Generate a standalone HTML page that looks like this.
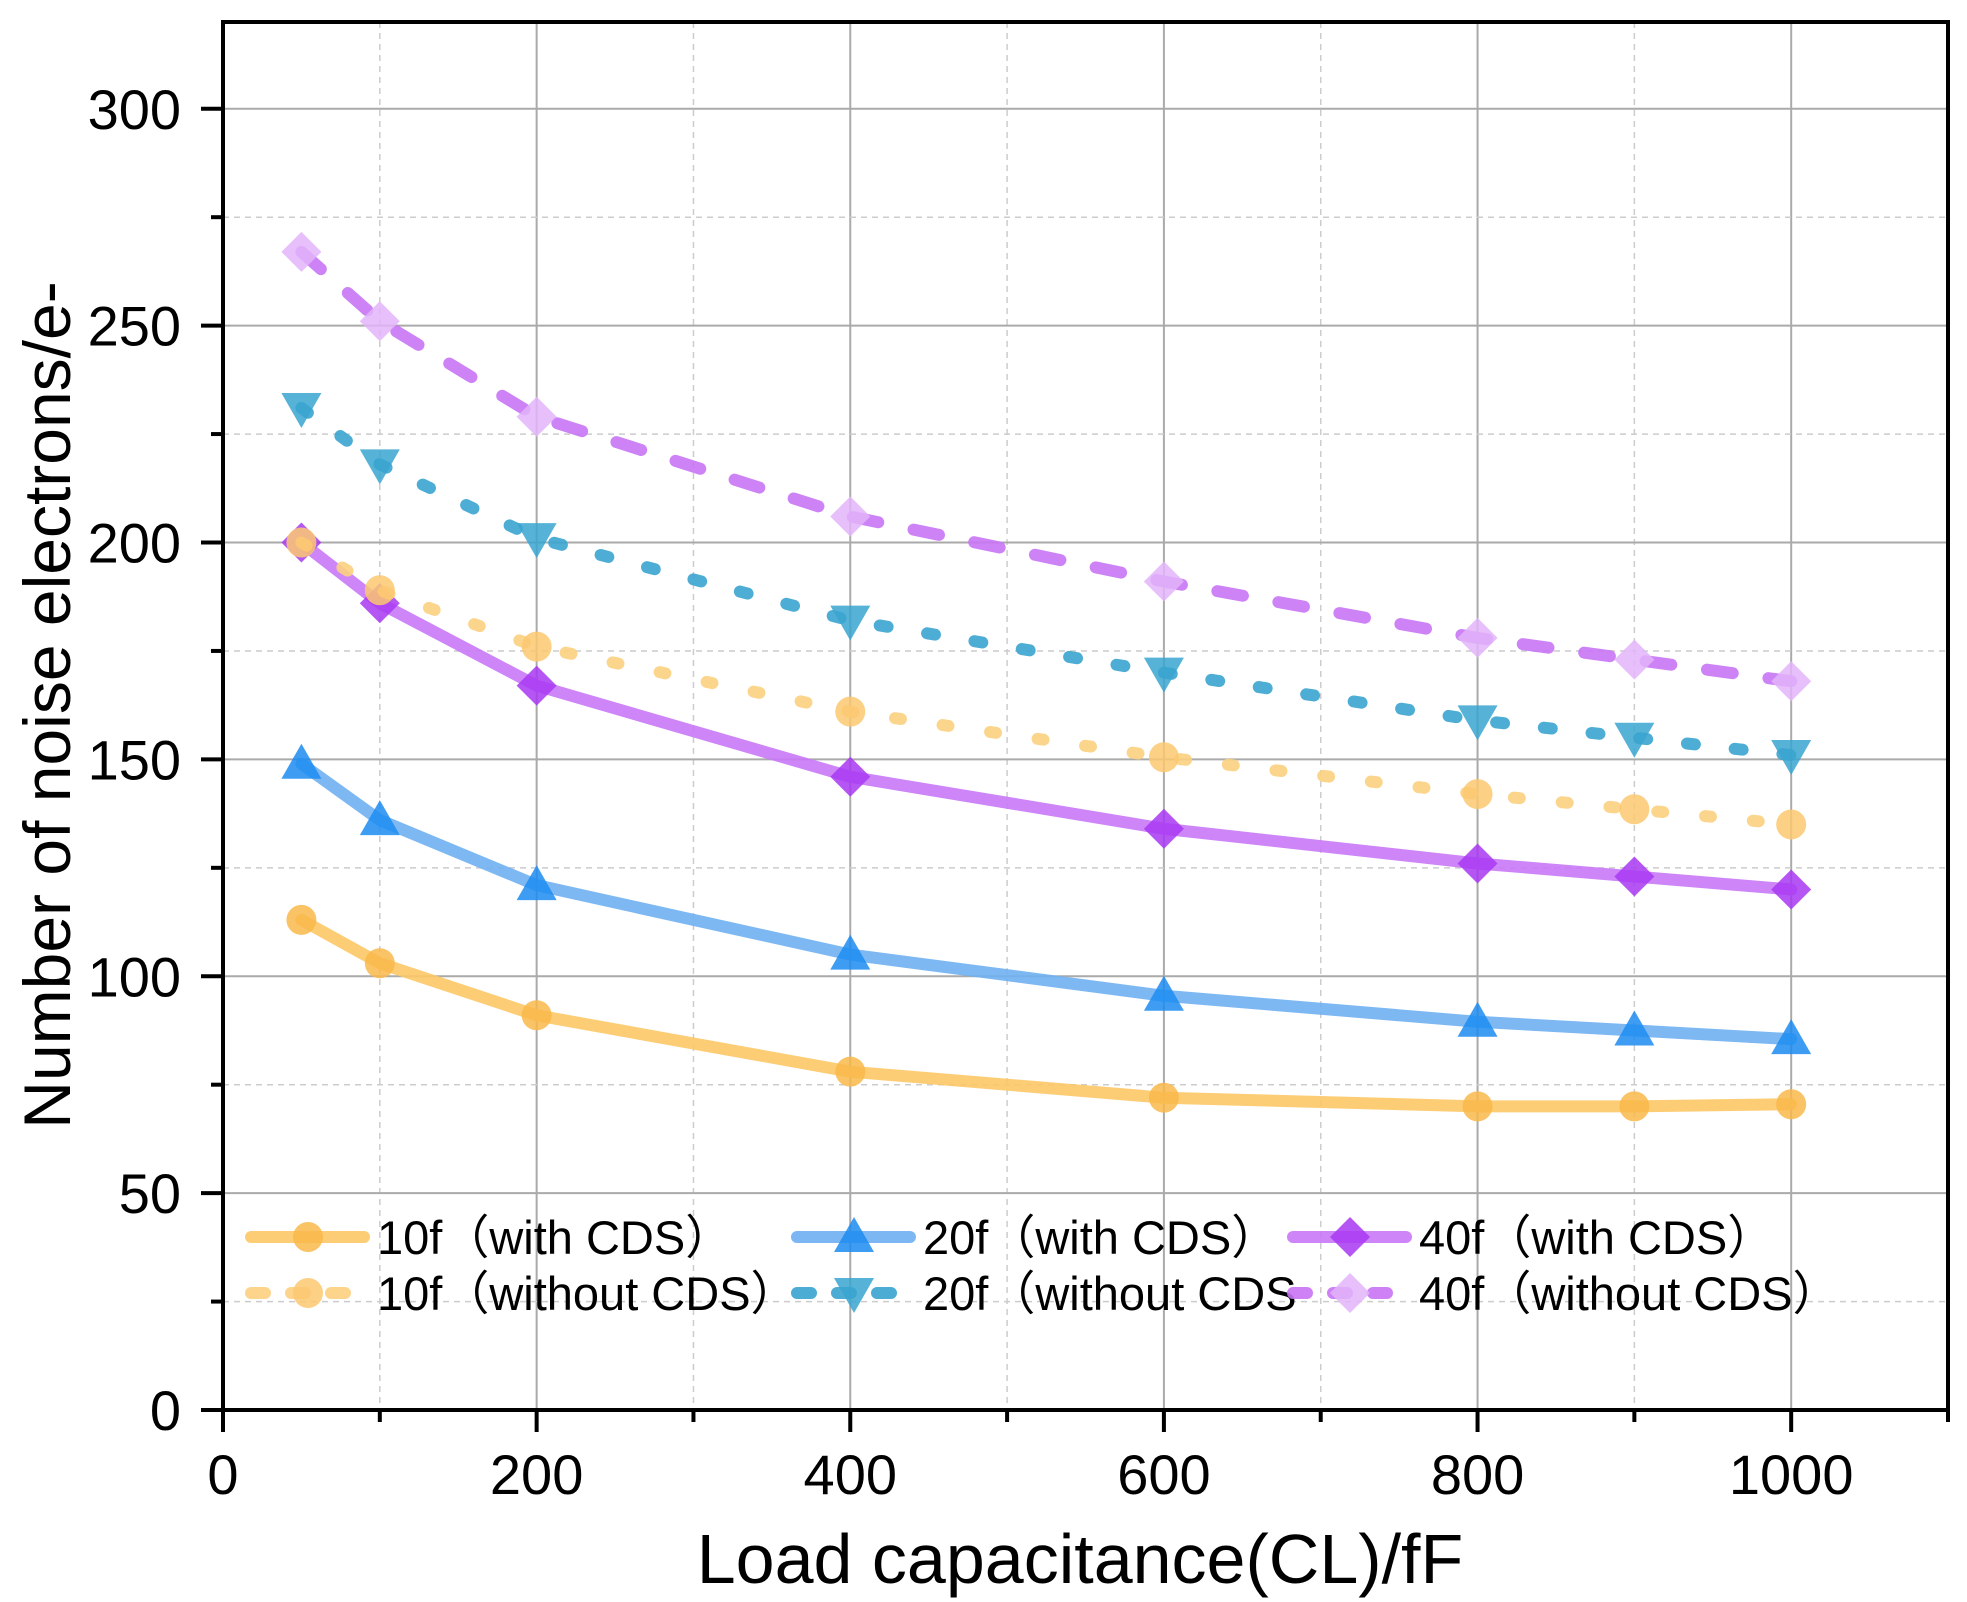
<!DOCTYPE html>
<html><head><meta charset="utf-8"><style>
html,body{margin:0;padding:0;background:#fff;}
svg{display:block;font-family:"Liberation Sans",Arial,sans-serif;}
</style></head><body>
<svg id="chart" width="1967" height="1602" xmlns="http://www.w3.org/2000/svg">
<g id="grid"></g>
<g id="series"></g>
<g id="axes"></g>
<g id="legend"></g>
<text x="1080" y="1583" font-size="70" text-anchor="middle">Load capacitance(CL)/fF</text>
<text transform="translate(70,705) rotate(-90)" font-size="66" text-anchor="middle">Number of noise electrons/e-</text>
</svg>
<script>
const categories=[50,100,200,400,600,800,900,1000];
const s10w=[113,103,91,78,72,70,70,70.5];
const s20w=[149,136,121,105,95.5,89.5,87.5,85.5];
const s40w=[200,186,167,146,134,126,123,120];
const s10o=[200,189,176,161,150.5,142,138.5,135];
const s20o=[231,218,201,182,170,159,155,151];
const s40o=[267,251,229,206,191,178,173,168];
const xTicks=[0,200,400,600,800,1000];
const yTicks=[0,50,100,150,200,250,300];
const seriesNames=["10f（with CDS）","20f（with CDS）","40f（with CDS）","10f（without CDS）","20f（without CDS","40f（without CDS）"];

const NS="http://www.w3.org/2000/svg";
const L=223,R=1948,T=22,B=1410;
const X=v=>L+v*(R-L)/1100;
const Y=v=>B-v*(B-T)/320;
function mk(tag,attrs,parent){const e=document.createElementNS(NS,tag);for(const k in attrs)e.setAttribute(k,attrs[k]);parent.appendChild(e);return e;}
const grid=document.getElementById('grid'),axes=document.getElementById('axes'),ser=document.getElementById('series'),leg=document.getElementById('legend');

for(let v=100;v<=1000;v+=100){const major=v%200===0;
 const g=mk('line',{x1:X(v),x2:X(v),y1:T,y2:B,stroke:major?'#aaa':'#ccc','stroke-width':major?2:1.5,'stroke-dasharray':major?'none':'6,5'},grid);
 
 }
for(let v=25;v<=300;v+=25){const major=v%50===0;
 const g=mk('line',{x1:L,x2:R,y1:Y(v),y2:Y(v),stroke:major?'#aaa':'#ccc','stroke-width':major?2:1.5,'stroke-dasharray':major?'none':'6,5'},grid);
 
 }

const frame=mk('rect',{x:L,y:T,width:R-L,height:B-T,fill:'none',stroke:'#000','stroke-width':4},axes);


for(let v=0;v<=1100;v+=100){const t=mk('line',{x1:X(v),x2:X(v),y1:B,y2:B+(v%200===0?22:12),stroke:'#000','stroke-width':4},axes);
 
 }
for(let v=0;v<=300;v+=25){const t=mk('line',{x1:L,x2:L-(v%50===0?22:12),y1:Y(v),y2:Y(v),stroke:'#000','stroke-width':4},axes);
 
 }
xTicks.forEach(v=>{const t=mk('text',{x:X(v),y:B+84,'font-size':56,'text-anchor':'middle'},axes);t.textContent=v;
 
 });
yTicks.forEach(v=>{const t=mk('text',{x:L-42,y:Y(v)+20,'font-size':56,'text-anchor':'end'},axes);t.textContent=v;
 
 });

function marker(type,cx,cy,color,parent,op){
 let e;const s=20;
 if(type==='circle')e=mk('circle',{cx,cy,r:15,fill:color,opacity:op},parent);
 else if(type==='up')e=mk('polygon',{points:`${cx},${cy-s} ${cx-s},${cy+s*0.75} ${cx+s},${cy+s*0.75}`,fill:color,opacity:op},parent);
 else if(type==='down')e=mk('polygon',{points:`${cx},${cy+s} ${cx-s},${cy-s*0.75} ${cx+s},${cy-s*0.75}`,fill:color,opacity:op},parent);
 else e=mk('polygon',{points:`${cx},${cy-s} ${cx-s},${cy} ${cx},${cy+s} ${cx+s},${cy}`,fill:color,opacity:op},parent);
 return e;}

const defs=[
 {data:s10w,line:'#fcc866',mk:'circle',mc:'#f9b94a',dash:null,name:'10f-with-cds'},
 {data:s20w,line:'#6fb0f2',mk:'up',mc:'#1c8cf0',dash:null,name:'20f-with-cds'},
 {data:s40w,line:'#c878f7',mk:'diamond',mc:'#a838f2',dash:null,name:'40f-with-cds'},
 {data:s10o,line:'#fcd080',mk:'circle',mc:'#fcc870',dash:'6,42',name:'10f-without-cds'},
 {data:s20o,line:'#3aa4d0',mk:'down',mc:'#3aa4d0',dash:'8,40',name:'20f-without-cds'},
 {data:s40o,line:'#c874f5',mk:'diamond',mc:'#e2b4fa',dash:'26,36',name:'40f-without-cds'}];

defs.forEach(d=>{
 const g=mk('g',{},ser);
 
 
 const pts=categories.map((c,i)=>X(c)+','+Y(d.data[i])).join(' ');
 const pl=mk('polyline',{points:pts,fill:'none',stroke:d.line,'stroke-width':12,'stroke-linecap':'round','stroke-linejoin':'round',opacity:0.9},g);
 if(d.dash)pl.setAttribute('stroke-dasharray',d.dash);
 
 
 categories.forEach((c,i)=>{const m=marker(d.mk,X(c),Y(d.data[i]),d.mc,g,0.85);
  
  });
});

const legPos=[[251,1237],[797,1237],[1293,1237],[251,1293],[797,1293],[1293,1293]];
defs.forEach((d,i)=>{
 const [x,y]=legPos[i];
 const g=mk('g',{},leg);
 
 
 const ln=mk('line',{x1:x,x2:x+113,y1:y,y2:y,stroke:d.line,'stroke-width':12,'stroke-linecap':'round',opacity:0.9},g);
 if(d.dash)ln.setAttribute('stroke-dasharray','14,26');
 marker(d.mk,x+57,y,d.mc,g,0.85);
 const t=mk('text',{x:x+126,y:y+17,'font-size':47},g);
 t.textContent=seriesNames[i];
});
</script>
</body></html>
